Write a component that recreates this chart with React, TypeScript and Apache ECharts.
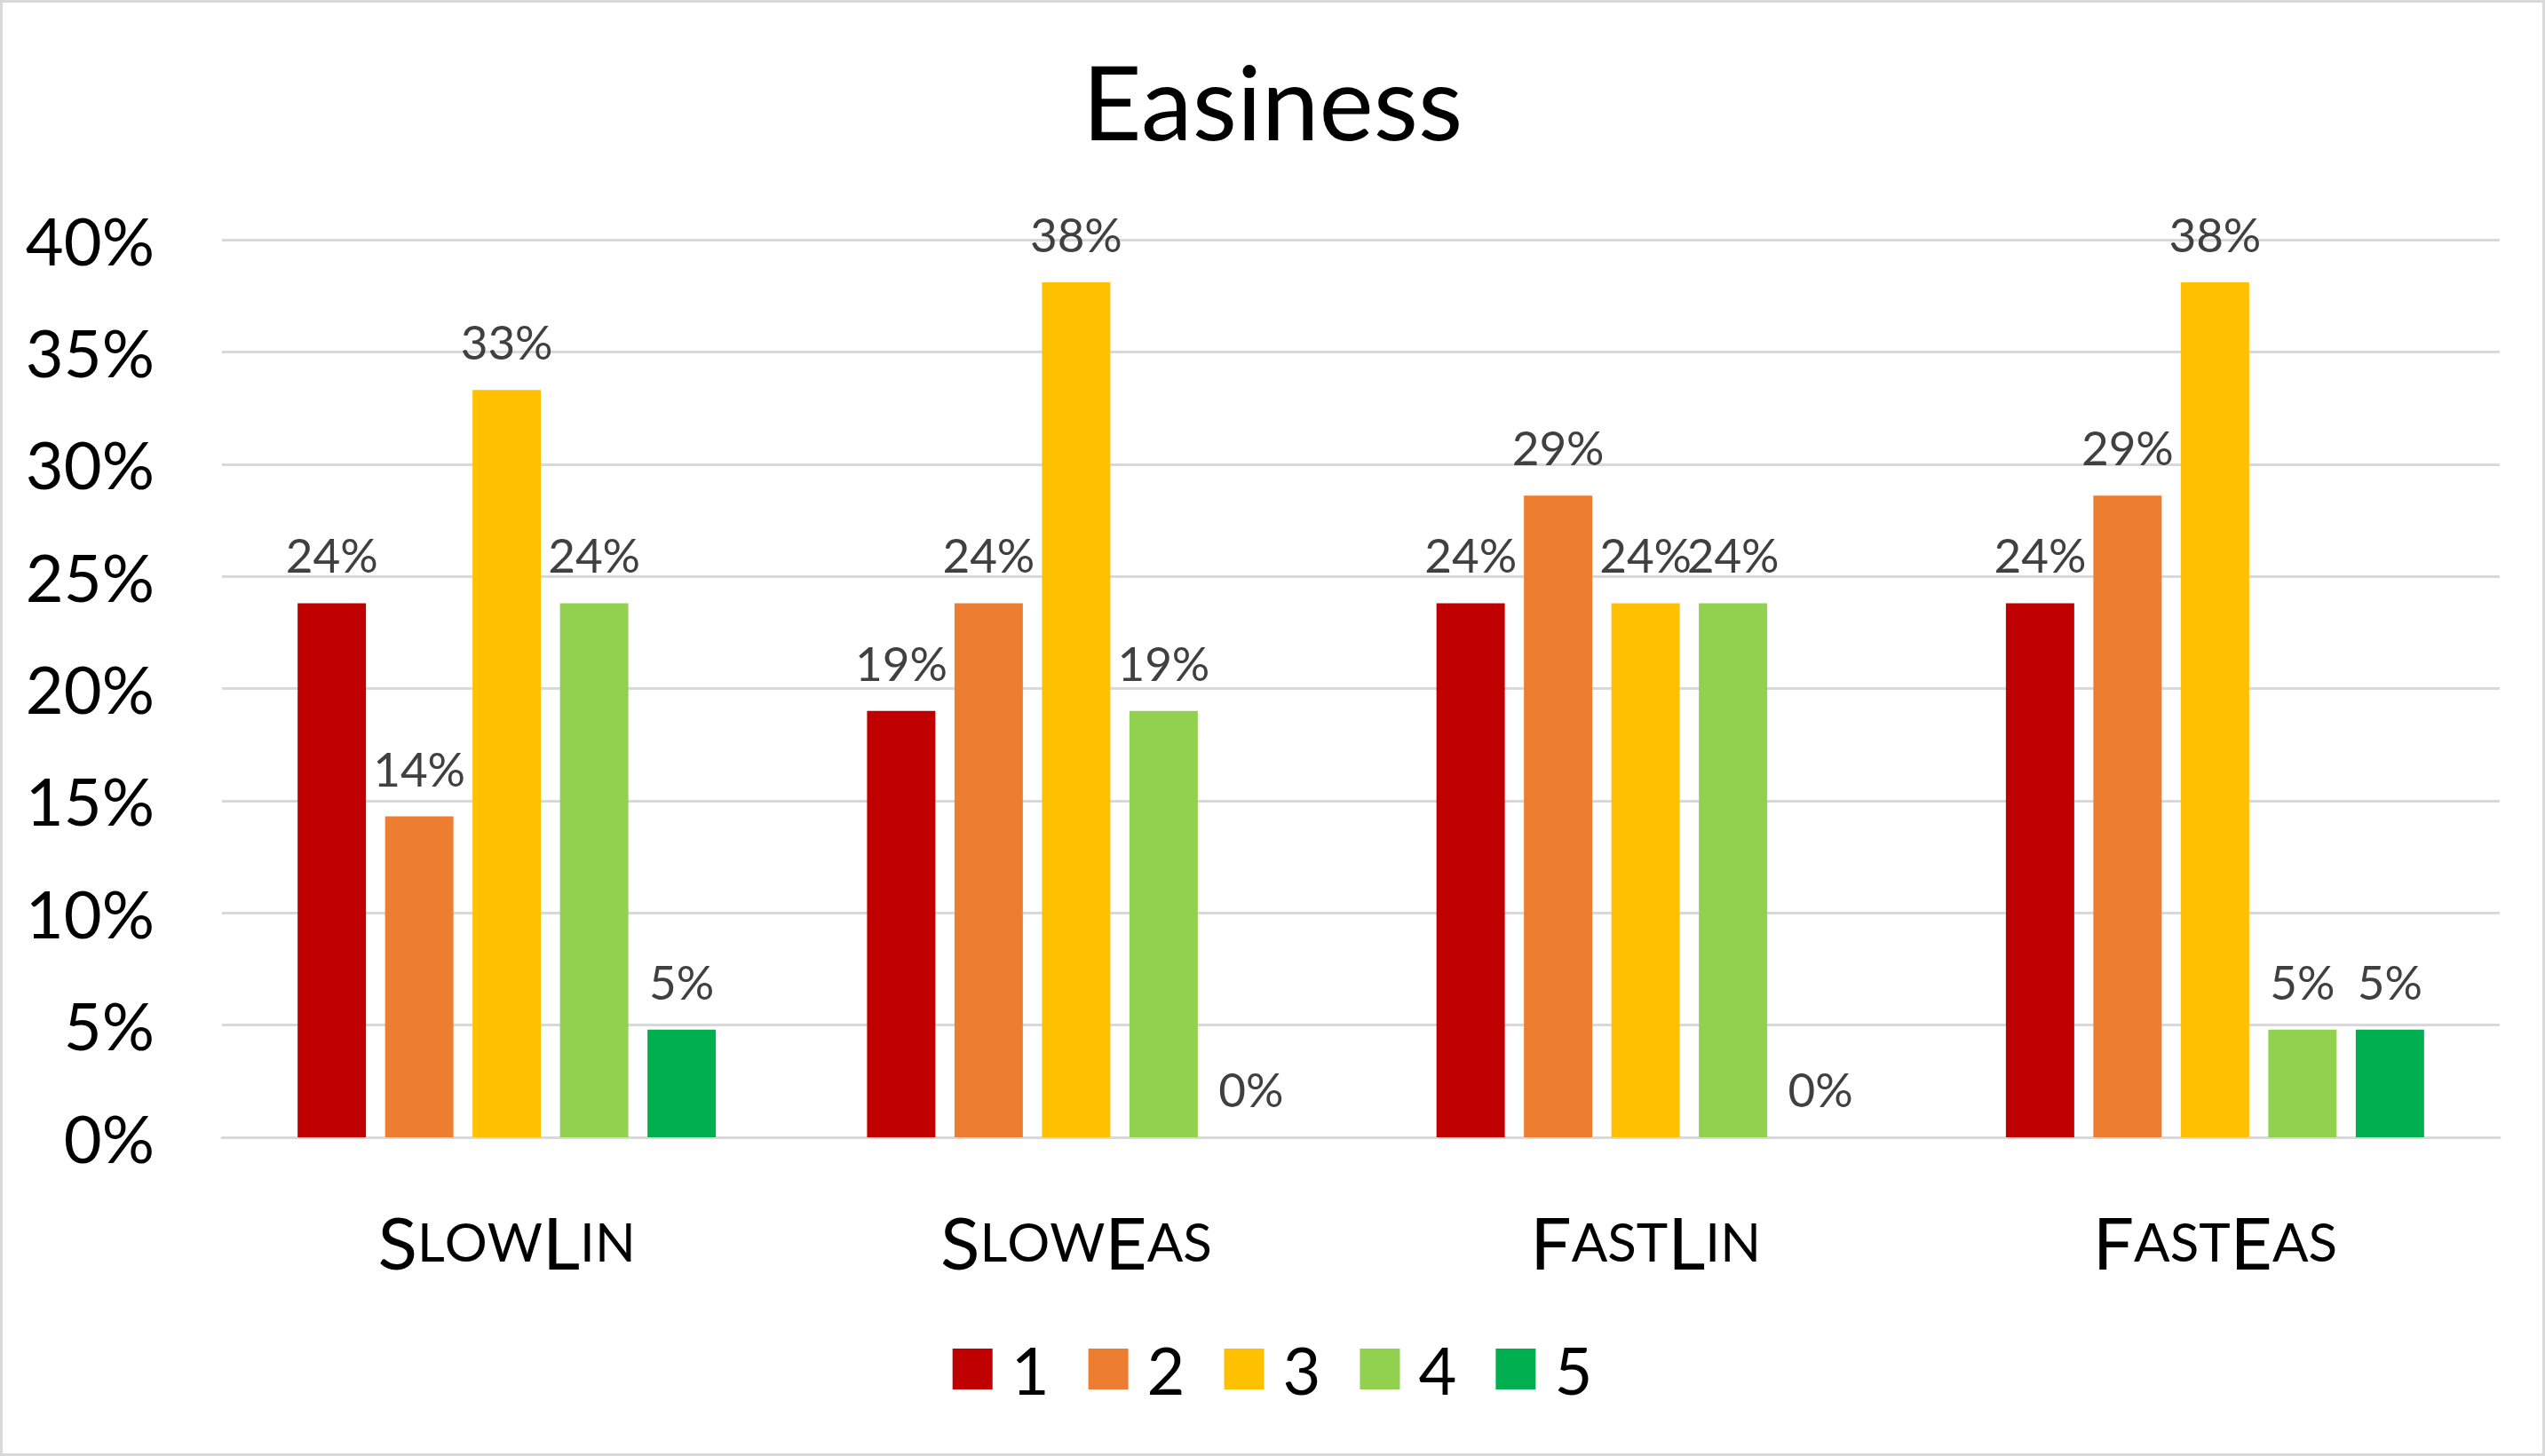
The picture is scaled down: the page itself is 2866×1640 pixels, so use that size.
import React, { useEffect, useRef } from "react";
import * as echarts from "echarts";

const categories = ["SlowLin", "SlowEas", "FastLin", "FastEas"];
const seriesNames = ["1", "2", "3", "4", "5"];
const seriesColors = ["#C00000", "#ED7D31", "#FFC000", "#92D050", "#00B050"];
// percentages per rating, per category
const rating1 = [23.8, 19.0, 23.8, 23.8];
const rating2 = [14.3, 23.8, 28.6, 28.6];
const rating3 = [33.3, 38.1, 23.8, 38.1];
const rating4 = [23.8, 19.0, 23.8, 4.8];
const rating5 = [4.8, 0, 0, 4.8];
const seriesValues = [rating1, rating2, rating3, rating4, rating5];
const yTicks = { min: 0, max: 40, interval: 5 };

const FONT = "Lato, 'Open Sans', sans-serif";

function smallCaps(word: string): string {
  let out = "";
  for (const ch of word) {
    if (ch >= "A" && ch <= "Z") out += `{b|${ch}}`;
    else out += `{s|${ch.toUpperCase()}}`;
  }
  return out;
}

export default function App() {
  const ref = useRef<HTMLDivElement>(null);
  useEffect(() => {
    document.body.style.margin = "0";
    if (!ref.current) return;
    const chart = echarts.init(ref.current, null, { renderer: "svg" });
    chart.setOption({
      animation: false,
      backgroundColor: "#ffffff",
      graphic: [
        {
          type: "rect",
          shape: { x: 1.5, y: 1.5, width: 2863, height: 1637 },
          style: { fill: "none", stroke: "#d9d9d9", lineWidth: 3 },
          silent: true,
        },
      ],
      title: {
        text: "Easiness",
        left: "center",
        top: 50,
        textStyle: { fontFamily: FONT, fontSize: 116, fontWeight: "normal", color: "#000000" },
      },
      legend: {
        data: seriesNames,
        left: "center",
        top: 1500,
        itemWidth: 45,
        itemHeight: 46,
        itemGap: 44,
        icon: "rect",
        textStyle: { fontFamily: FONT, fontSize: 74, color: "#000000", padding: [0, 0, 0, 16] },
      },
      grid: { left: 250, right: 51, top: 270, bottom: 359, containLabel: false },
      xAxis: {
        type: "category",
        data: categories,
        axisLine: { show: true, lineStyle: { color: "#d9d9d9", width: 3 } },
        axisTick: { show: false },
        axisLabel: {
          margin: 76,
          formatter: (v: string) => smallCaps(v),
          rich: {
            b: { fontFamily: FONT, fontSize: 82, color: "#000000" },
            s: { fontFamily: FONT, fontSize: 60, color: "#000000" },
          },
        },
      },
      yAxis: {
        type: "value",
        min: yTicks.min,
        max: yTicks.max,
        interval: yTicks.interval,
        axisLine: { show: false },
        axisTick: { show: false },
        splitLine: { lineStyle: { color: "#d9d9d9", width: 3 } },
        axisLabel: {
          margin: 76,
          fontFamily: FONT,
          fontSize: 74,
          color: "#000000",
          formatter: (v: number) => `${Math.round(v)}%`,
        },
      },
      series: seriesNames.map((name, i) => ({
        name,
        type: "bar",
        data: seriesValues[i],
        barWidth: "12%",
        barGap: "28%",
        itemStyle: { color: seriesColors[i] },
        label: {
          show: true,
          position: "top",
          distance: 28,
          fontFamily: FONT,
          fontSize: 53,
          color: "#404040",
          formatter: (p: any) => `${Math.round(p.value)}%`,
        },
      })),
    });
    return () => chart.dispose();
  }, []);
  return <div ref={ref} style={{ width: 2866, height: 1640 }} />;
}
